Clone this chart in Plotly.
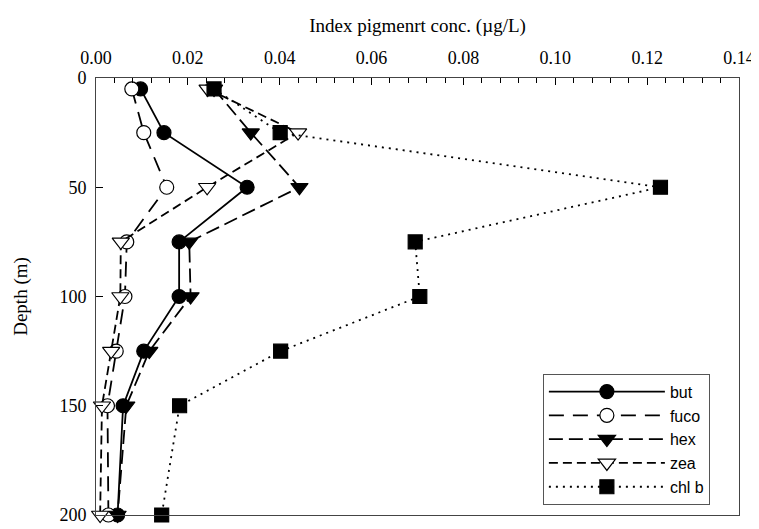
import plotly.graph_objects as go

depth = [5, 25, 50, 75, 100, 125, 150, 200]
but = [0.0097, 0.0148, 0.0329, 0.0181, 0.0181, 0.0104, 0.0059, 0.0047]
fuco = [0.0078, 0.0104, 0.0154, 0.0067, 0.0063, 0.0044, 0.0025, 0.0027]
hexa = [0.0257, 0.0337, 0.0443, 0.0203, 0.0206, 0.0116, 0.0066, 0.0047]
zea = [0.0243, 0.0440, 0.0242, 0.0054, 0.0053, 0.0033, 0.0013, 0.0009]
chlb = [0.0257, 0.0401, 0.1229, 0.0695, 0.0705, 0.0402, 0.0182, 0.0143]

x_ticks = [0.00, 0.02, 0.04, 0.06, 0.08, 0.10, 0.12, 0.14]
x_ticklabels = ["0.00", "0.02", "0.04", "0.06", "0.08", "0.10", "0.12", "0.14"]
y_ticks = [0, 50, 100, 150, 200]

series = [
    ("but", but, "solid", "circle", "black"),
    ("fuco", fuco, "15px,9px", "circle-open", "white"),
    ("hex", hexa, "14px,6px", "triangle-down", "black"),
    ("zea", zea, "9px,5px", "triangle-down-open", "white"),
    ("chl b", chlb, "2px,5px", "square", "black"),
]

fig = go.Figure()
for name, vals, dash, sym, fill in series:
    s = sym.replace("-open", "")
    fig.add_trace(go.Scatter(
        x=vals, y=depth, name=name, mode="lines+markers",
        line=dict(color="black", width=1.8, dash=dash),
        marker=dict(symbol=s, size=14 if "triangle" not in s else 15,
                    color=fill, line=dict(color="black", width=1.2)),
        cliponaxis=False,
    ))

serif = "Liberation Serif, Times New Roman, serif"
fig.update_layout(
    width=759, height=529,
    margin=dict(l=87, r=26, t=70, b=17),
    plot_bgcolor="white", paper_bgcolor="white",
    font=dict(family=serif, size=18, color="black"),
    showlegend=True,
    legend=dict(
        x=0.695, y=0.3235, xanchor="left", yanchor="top",
        bgcolor="white", bordercolor="#555", borderwidth=1,
        font=dict(family="Liberation Sans, Arial, sans-serif", size=16, color="black"),
        itemwidth=116, tracegroupgap=0,
    ),
    xaxis=dict(
        side="top", range=[0, 0.14], tickvals=x_ticks, ticktext=x_ticklabels,
        ticks="inside", ticklen=7, tickcolor="black", tickwidth=1,
        minor=dict(dtick=0.004, ticks="inside", ticklen=5, tickcolor="black", tickwidth=1),
        showline=True, linecolor="#444", linewidth=1, mirror=True,
        showgrid=False, zeroline=False, ticklabelstandoff=6,
        title=dict(text="Index pigmenrt conc. (µg/L)", font=dict(size=19), standoff=10),
        tickfont=dict(size=18),
    ),
    yaxis=dict(
        range=[200, 0], tickvals=y_ticks,
        ticks="inside", ticklen=7, tickcolor="black", tickwidth=1,
        showline=True, linecolor="#444", linewidth=1, mirror=True,
        showgrid=False, zeroline=False, ticklabelstandoff=5,
        title=dict(text="Depth (m)", font=dict(size=19), standoff=26),
        tickfont=dict(size=18),
    ),
)

fig.write_html("out.html")
